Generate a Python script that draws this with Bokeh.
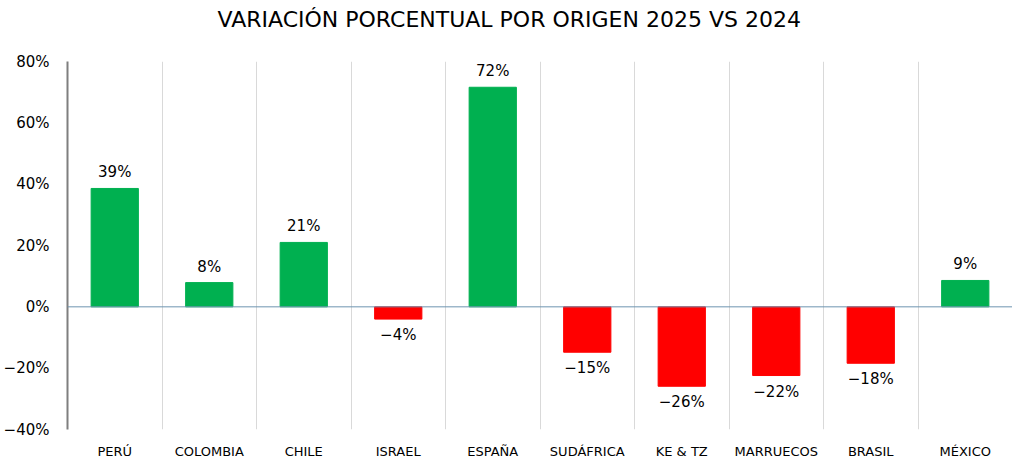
from bokeh.plotting import figure
from bokeh.models import ColumnDataSource, FixedTicker, Range1d, Span, Title
from bokeh.core.properties import value
from bokeh.embed import file_html
from bokeh.resources import INLINE

categories = ["PERÚ", "COLOMBIA", "CHILE", "ISRAEL", "ESPAÑA", "SUDÁFRICA", "KE & TZ", "MARRUECOS", "BRASIL", "MÉXICO"]
variation = [38.6, 7.9, 21.0, -4.0, 71.6, -14.8, -25.9, -22.4, -18.4, 8.6]
y_ticks = [-40, -20, 0, 20, 40, 60, 80]
y_tick_labels = ["−40%", "−20%", "0%", "20%", "40%", "60%", "80%"]

FONT = "DejaVu Sans"
GREEN = "#00B050"
RED = "#FF0000"

xs = [i + 0.5 for i in range(len(categories))]
colors = [GREEN if v >= 0 else RED for v in variation]
labels = [("−" if v < 0 else "") + f"{abs(round(v))}%" for v in variation]

src = ColumnDataSource(dict(x=xs, top=variation, color=colors, label=labels))
pos = ColumnDataSource(dict(x=[x for x, v in zip(xs, variation) if v >= 0],
                            y=[v for v in variation if v >= 0],
                            label=[l for l, v in zip(labels, variation) if v >= 0]))
neg = ColumnDataSource(dict(x=[x for x, v in zip(xs, variation) if v < 0],
                            y=[v for v in variation if v < 0],
                            label=[l for l, v in zip(labels, variation) if v < 0]))

p = figure(frame_width=945, frame_height=368, output_backend="svg", toolbar_location=None,
           x_range=Range1d(0, len(categories)), y_range=Range1d(-40, 80),
           min_border_left=60, min_border_right=0, min_border_top=0, min_border_bottom=30)
p.outline_line_color = None
p.title = None
p.add_layout(Title(text=" ", text_font_size="10px", standoff=13), "above")
p.add_layout(Title(text="VARIACIÓN PORCENTUAL POR ORIGEN 2025 VS 2024", align="left", offset=150,
                   text_font=FONT, text_font_size="22px", text_font_style="normal",
                   text_color="#000000", standoff=8), "above")

p.vbar(x="x", top="top", bottom=0, width=0.5, color="color", source=src)

p.add_layout(Span(location=0, dimension="width", line_color="#6E94B0", line_width=1))

p.text(x="x", y="y", text="label", source=pos, text_align="center", text_baseline="bottom",
       y_offset=-7, text_font=value(FONT), text_font_size="15px", text_color="#000000")
p.text(x="x", y="y", text="label", source=neg, text_align="center", text_baseline="top",
       y_offset=7, text_font=value(FONT), text_font_size="15px", text_color="#000000")

# y axis
p.yaxis.ticker = FixedTicker(ticks=y_ticks)
p.yaxis.major_label_overrides = {t: l for t, l in zip(y_ticks, y_tick_labels)}
p.yaxis.axis_line_color = "#7F7F7F"
p.yaxis.axis_line_width = 2
p.yaxis.major_tick_line_color = None
p.yaxis.minor_tick_line_color = None
p.yaxis.major_label_standoff = 12
p.yaxis.major_label_text_font = FONT
p.yaxis.major_label_text_font_size = "15px"
p.yaxis.major_label_text_color = "#000000"

# x axis
p.xaxis.ticker = FixedTicker(ticks=xs)
p.xaxis.major_label_overrides = {x: c for x, c in zip(xs, categories)}
p.xaxis.axis_line_color = None
p.xaxis.major_tick_line_color = None
p.xaxis.minor_tick_line_color = None
p.xaxis.major_label_standoff = 8
p.xaxis.major_label_text_font = FONT
p.xaxis.major_label_text_font_size = "13px"
p.xaxis.major_label_text_color = "#000000"

p.ygrid.grid_line_color = None
p.xgrid.ticker = FixedTicker(ticks=list(range(1, len(categories) + 1)))
p.xgrid.grid_line_color = "#D9D9D9"

open("out.html", "w").write(file_html(p, INLINE))
